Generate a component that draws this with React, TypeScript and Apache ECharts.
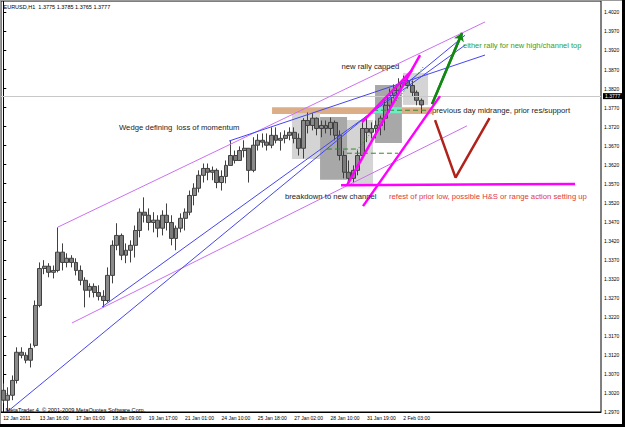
import React, { useEffect, useRef } from "react";
import * as echarts from "echarts";

// ---------- data ----------
const chartTitle = "EURUSD,H1  1.3775 1.3785 1.3765 1.3777";
const copyright = "MetaTrader 4, \u00a9 2001-2009 MetaQuotes Software Corp.";
const xTickLabels = [
  "12 Jan 2011", "13 Jan 16:00", "17 Jan 01:00", "18 Jan 09:00", "19 Jan 17:00", "21 Jan 01:00",
  "24 Jan 10:00", "25 Jan 18:00", "27 Jan 02:00", "28 Jan 10:00", "31 Jan 19:00", "2 Feb 03:00",
];
const slotsPerTick = 8; // each slot = 4 hourly bars
const slotCount = 132;
const yMin = 1.297;
const yMax = 1.405;
const yStep = 0.005;
const lastPrice = 1.3777;

const opens = [
  1.3027, 1.3001, 1.3014, 1.3053, 1.3127, 1.3119, 1.3106, 1.3145, 1.3250, 1.3347,
  1.3353, 1.3337, 1.3342, 1.3390, 1.3363, 1.3374, 1.3363, 1.3342, 1.3316, 1.3290,
  1.3300, 1.3284, 1.3274, 1.3263, 1.3329, 1.3408, 1.3434, 1.3382, 1.3395, 1.3408,
  1.3447, 1.3495, 1.3487, 1.3468, 1.3474, 1.3453, 1.3487, 1.3468, 1.3426, 1.3453,
  1.3479, 1.3495, 1.3539, 1.3558, 1.3592, 1.3610, 1.3600, 1.3605, 1.3573, 1.3589,
  1.3618, 1.3644, 1.3631, 1.3657, 1.3663, 1.3605, 1.3671, 1.3684, 1.3679, 1.3671,
  1.3697, 1.3684, 1.3689, 1.3697, 1.3705, 1.3689, 1.3663, 1.3736, 1.3723, 1.3742,
  1.3715, 1.3723, 1.3715, 1.3731, 1.3697, 1.3644, 1.3600, 1.3584, 1.3605, 1.3644,
  1.3715, 1.3705, 1.3715, 1.3723, 1.3742, 1.3776, 1.3802, 1.3815, 1.3831, 1.3841,
  1.3828, 1.3810, 1.3789,
];
const closes = [
  1.3001, 1.3014, 1.3053, 1.3127, 1.3119, 1.3106, 1.3137, 1.3250, 1.3347, 1.3353,
  1.3337, 1.3342, 1.3390, 1.3363, 1.3374, 1.3363, 1.3342, 1.3316, 1.3290, 1.3300,
  1.3284, 1.3274, 1.3263, 1.3329, 1.3408, 1.3434, 1.3382, 1.3395, 1.3408, 1.3447,
  1.3495, 1.3487, 1.3468, 1.3474, 1.3453, 1.3487, 1.3468, 1.3426, 1.3453, 1.3479,
  1.3495, 1.3539, 1.3558, 1.3592, 1.3610, 1.3600, 1.3605, 1.3573, 1.3589, 1.3618,
  1.3644, 1.3631, 1.3657, 1.3663, 1.3605, 1.3671, 1.3684, 1.3679, 1.3671, 1.3697,
  1.3684, 1.3689, 1.3697, 1.3705, 1.3689, 1.3663, 1.3736, 1.3723, 1.3742, 1.3715,
  1.3723, 1.3715, 1.3731, 1.3697, 1.3644, 1.3600, 1.3584, 1.3605, 1.3644, 1.3715,
  1.3705, 1.3715, 1.3723, 1.3742, 1.3776, 1.3802, 1.3815, 1.3831, 1.3841, 1.3828,
  1.3810, 1.3789, 1.3777,
];
const lows = [
  1.2993, 1.2972, 1.3001, 1.3045, 1.3111, 1.3098, 1.3087, 1.3140, 1.3245, 1.3332,
  1.3324, 1.3321, 1.3337, 1.3342, 1.3350, 1.3350, 1.3329, 1.3303, 1.3245, 1.3271,
  1.3271, 1.3263, 1.3245, 1.3258, 1.3308, 1.3395, 1.3369, 1.3361, 1.3363, 1.3376,
  1.3429, 1.3468, 1.3447, 1.3442, 1.3429, 1.3434, 1.3447, 1.3408, 1.3395, 1.3442,
  1.3447, 1.3487, 1.3513, 1.3547, 1.3573, 1.3579, 1.3579, 1.3558, 1.3552, 1.3571,
  1.3618, 1.3623, 1.3631, 1.3639, 1.3573, 1.3600, 1.3657, 1.3665, 1.3657, 1.3663,
  1.3676, 1.3657, 1.3676, 1.3684, 1.3676, 1.3644, 1.3636, 1.3702, 1.3710, 1.3697,
  1.3692, 1.3702, 1.3697, 1.3684, 1.3631, 1.3584, 1.3566, 1.3571, 1.3592, 1.3636,
  1.3679, 1.3689, 1.3689, 1.3697, 1.3710, 1.3757, 1.3794, 1.3810, 1.3826, 1.3820,
  1.3799, 1.3776, 1.3755,
];
const highs = [
  1.3045, 1.3035, 1.3066, 1.3140, 1.3140, 1.3127, 1.3150, 1.3263, 1.3363, 1.3369,
  1.3361, 1.3355, 1.3455, 1.3413, 1.3387, 1.3382, 1.3374, 1.3355, 1.3324, 1.3308,
  1.3308, 1.3303, 1.3290, 1.3350, 1.3421, 1.3466, 1.3439, 1.3413, 1.3421, 1.3460,
  1.3505, 1.3534, 1.3505, 1.3495, 1.3487, 1.3500, 1.3518, 1.3487, 1.3460, 1.3492,
  1.3505, 1.3552, 1.3571, 1.3605, 1.3623, 1.3623, 1.3615, 1.3610, 1.3605, 1.3631,
  1.3684, 1.3657, 1.3668, 1.3684, 1.3663, 1.3692, 1.3700, 1.3702, 1.3702, 1.3718,
  1.3718, 1.3705, 1.3710, 1.3718, 1.3718, 1.3702, 1.3742, 1.3757, 1.3755, 1.3744,
  1.3736, 1.3736, 1.3744, 1.3736, 1.3710, 1.3657, 1.3631, 1.3618, 1.3657, 1.3731,
  1.3742, 1.3731, 1.3736, 1.3749, 1.3789, 1.3820, 1.3831, 1.3847, 1.3854, 1.3852,
  1.3841, 1.3815, 1.3794,
];

// annotation objects in (slot, price) coordinates
const violetLines = [
  [[12.04, 1.3456], [105.99, 1.3995]],
  [[15.12, 1.3204], [102.03, 1.3722]],
];
const blueLines = [
  [[0.82, 1.2970], [101.59, 1.3960]],
  [[21.72, 1.3246], [101.59, 1.3934]],
  [[49.67, 1.3682], [105.99, 1.3908]],
];
const magentaLines = [
  [[74.31, 1.3566], [125.79, 1.3569]],
  [[75.63, 1.3566], [91.69, 1.3908]],
  [[79.15, 1.3511], [96.09, 1.3800]],
  [[78.93, 1.3732], [89.93, 1.3868]],
];
const greenArrow = [[94.33, 1.3779], [100.93, 1.3966]];
const redV = [[94.99, 1.3737], [99.5, 1.3586], [106.98, 1.3742]];
const dashedLevels = [
  [[71.2, 1.3661], [77.8, 1.3661]],
  [[75.6, 1.3650], [86.85, 1.3650]],
  [[81.35, 1.3763], [93.45, 1.3763]],
];
const dottedTrend = [[77.83, 1.3658], [92.35, 1.3876]];
const bandBoxes = [[59.13, 1.3771, 94.33, 1.3753]];
const lightBoxes = [
  [63.5, 1.3755, 69.69, 1.3635],
  [75.63, 1.3737, 81.35, 1.3566],
  [87.95, 1.3861, 93.45, 1.3777],
];
const darkBoxes = [
  [69.69, 1.3745, 75.63, 1.3580],
  [81.79, 1.3829, 87.7, 1.3677],
];
const tealBoxes = [[81.35, 1.3771, 87.7, 1.3755]];

// ---------- chart ----------
const FONT = "Liberation Sans";
const NOTE_SIZE = 7.7;

function boxSeries(data: number[][], color: string, z: number) {
  return {
    type: "custom",
    xAxisIndex: 1,
    yAxisIndex: 0,
    z,
    silent: true,
    data,
    encode: { x: [0, 2], y: [1, 3] },
    renderItem: (_p: any, api: any) => {
      const a = api.coord([api.value(0), api.value(1)]);
      const b = api.coord([api.value(2), api.value(3)]);
      return {
        type: "rect",
        shape: {
          x: Math.min(a[0], b[0]),
          y: Math.min(a[1], b[1]),
          width: Math.abs(b[0] - a[0]),
          height: Math.abs(b[1] - a[1]),
        },
        style: { fill: color },
      };
    },
  };
}

function lineSeries(pts: number[][], color: string, width: number, type: any = "solid", z = 5) {
  return {
    type: "line",
    xAxisIndex: 1,
    yAxisIndex: 0,
    data: pts,
    symbol: "none",
    silent: true,
    z,
    lineStyle: { color, width, type },
  };
}

function text(x: number, y: number, t: string, size: number, fill: string) {
  return {
    type: "text",
    x,
    y,
    silent: true,
    z: 20,
    style: { text: t, fill, fontSize: size, fontFamily: FONT, verticalAlign: "middle", align: "left" },
  };
}

export default function App() {
  const ref = useRef<HTMLDivElement>(null);
  useEffect(() => {
    document.body.style.margin = "0";
    const chart = echarts.init(ref.current!, null, { renderer: "svg" });
    const categories = Array.from({ length: slotCount }, (_, i) =>
      i % slotsPerTick === 0 && i / slotsPerTick < xTickLabels.length ? xTickLabels[i / slotsPerTick] : ""
    );
    const candles = opens.map((o, i) => [o, closes[i], lows[i], highs[i]]);
    const showTick = (_i: number, v: string) => v !== "";

    const series: any[] = [
      boxSeries(bandBoxes, "#dcae88", 1),
      boxSeries(lightBoxes, "#d4d4d4", 1),
      boxSeries(darkBoxes, "#a8a8a8", 1),
      boxSeries(tealBoxes, "#70ecc4", 2),
      {
        type: "candlestick",
        xAxisIndex: 0,
        yAxisIndex: 0,
        data: candles,
        barWidth: "96%",
        z: 3,
        silent: true,
        itemStyle: { color: "#8a8a8a", color0: "#7a7a7a", borderColor: "#404040", borderColor0: "#404040", borderWidth: 1 },
        markLine: {
          silent: true,
          symbol: "none",
          animation: false,
          lineStyle: { color: "#c8c8c8", width: 1, type: "solid" },
          label: {
            position: "end",
            formatter: lastPrice.toFixed(4),
            backgroundColor: "#000",
            color: "#fff",
            fontSize: 5,
            fontFamily: FONT,
            padding: [0.5, 2, 0.5, 2],
            distance: 2,
          },
          data: [{ yAxis: lastPrice }],
        },
      },
      ...violetLines.map((l) => lineSeries(l, "#cc70f0", 1)),
      ...blueLines.map((l) => lineSeries(l, "#4545f0", 1)),
      ...dashedLevels.map((l) => lineSeries(l, "#2e8b2e", 1, [5, 3])),
      lineSeries(dottedTrend, "#2e8b2e", 1, [1, 2]),
      ...magentaLines.map((l) => lineSeries(l, "#ff00ff", 2.5, "solid", 6)),
      lineSeries(redV, "#b0221a", 2.5, "solid", 6),
      {
        ...lineSeries(greenArrow, "#118811", 2.5, "solid", 6),
        markLine: {
          silent: true,
          animation: false,
          symbol: ["none", "arrow"],
          symbolSize: 8,
          label: { show: false },
          lineStyle: { color: "#118811", width: 2.5, type: "solid" },
          data: [[{ coord: greenArrow[0] }, { coord: greenArrow[1] }]],
        },
      },
    ];

    chart.setOption({
      animation: false,
      backgroundColor: "#ffffff",
      grid: { left: 1, right: 24, top: 1, bottom: 15, show: true, borderColor: "#000", borderWidth: 1 },
      xAxis: [
        {
          type: "category",
          data: categories,
          boundaryGap: true,
          axisLine: { lineStyle: { color: "#000", width: 1 } },
          axisTick: { alignWithLabel: true, interval: showTick, length: 3, lineStyle: { color: "#000" } },
          axisLabel: {
            interval: showTick,
            align: "left",
            margin: 3,
            fontSize: 5,
            fontFamily: FONT,
            color: "#000",
          },
          splitLine: { show: false },
        },
        { type: "value", min: -0.5, max: slotCount - 0.5, show: false },
      ],
      yAxis: {
        type: "value",
        position: "right",
        min: yMin,
        max: yMax,
        interval: yStep,
        scale: true,
        axisLine: { show: true, lineStyle: { color: "#000", width: 1 } },
        axisTick: { show: true, length: 3, lineStyle: { color: "#000" } },
        axisLabel: {
          margin: 3,
          fontSize: 5,
          fontFamily: FONT,
          color: "#000",
          showMaxLabel: false,
          formatter: (v: number) => v.toFixed(4),
        },
        splitLine: { show: false },
      },
      series,
      graphic: [
        { type: "rect", shape: { x: 622, y: 0, width: 3, height: 427 }, style: { fill: "#000" }, z: 30 },
        { type: "rect", shape: { x: 0, y: 424, width: 625, height: 3 }, style: { fill: "#000" }, z: 30 },
        { type: "rect", shape: { x: 0, y: 0, width: 1, height: 424 }, style: { fill: "#9a9a9a" }, z: 30 },
        { type: "rect", shape: { x: 0, y: 0, width: 622, height: 1 }, style: { fill: "#9a9a9a" }, z: 30 },
        text(3.5, 6.5, chartTitle, 5.5, "#000"),
        text(5.5, 409.5, copyright, 5.6, "#000"),
        text(341.5, 66.5, "new rally capped", NOTE_SIZE, "#222"),
        text(119, 127.5, "Wedge defining  loss of momentum", NOTE_SIZE, "#222"),
        text(285, 196.5, "breakdown to new channel", NOTE_SIZE, "#222"),
        text(432, 110, "previous day midrange, prior res/support", NOTE_SIZE, "#222"),
        text(463, 45, "either rally for new high/channel top", 7.5, "#2ea02e"),
        text(389, 196.5, "refest of prior low, possible H&S or range action setting up", 7.7, "#e03a3a"),
      ],
    });
    return () => chart.dispose();
  }, []);
  return <div ref={ref} style={{ width: 625, height: 427 }} />;
}
